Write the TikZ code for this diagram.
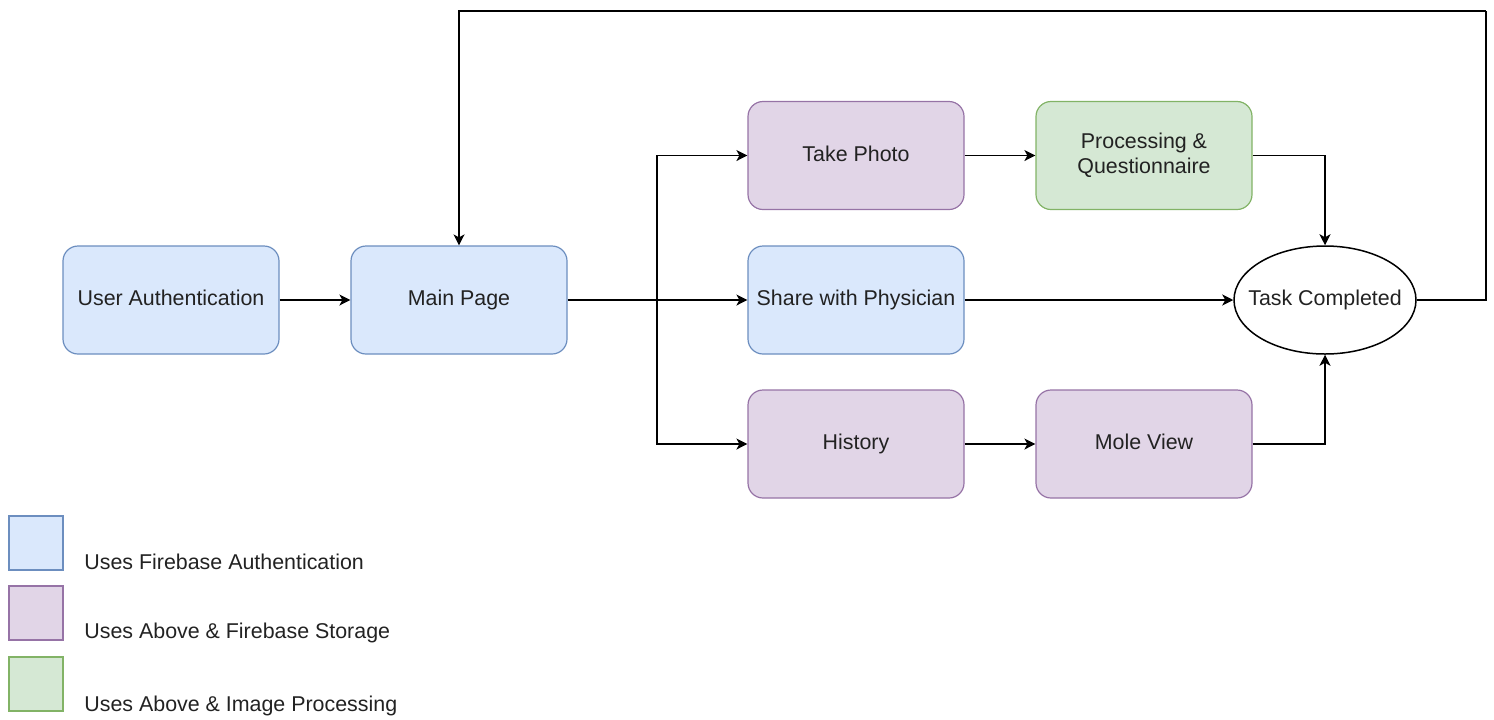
\documentclass[tikz,border=0pt]{standalone}
\usepackage{fontspec}
\setmainfont{Liberation Sans}
\usetikzlibrary{arrows.meta,shapes.geometric}
\definecolor{bfill}{HTML}{DAE8FC}\definecolor{bdraw}{HTML}{6C8EBF}
\definecolor{pfill}{HTML}{E1D5E7}\definecolor{pdraw}{HTML}{9673A6}
\definecolor{gfill}{HTML}{D5E8D4}\definecolor{gdraw}{HTML}{82B366}
\definecolor{txt}{HTML}{222222}
\tikzset{
  box/.style={rounded corners=7.5pt, minimum width=108pt, minimum height=54pt, inner sep=0pt, align=center, line width=0.6pt, text=txt, font=\fontsize{10.7}{12.5}\selectfont},
  oneline/.style={text height=8pt, text depth=2.3pt},
  bluebox/.style={box, fill=bfill, draw=bdraw},
  purplebox/.style={box, fill=pfill, draw=pdraw},
  greenbox/.style={box, fill=gfill, draw=gdraw},
  legbox/.style={minimum width=27pt, minimum height=27pt, inner sep=0pt, line width=0.6pt},
  legtext/.style={anchor=west, inner sep=0pt, text=txt, font=\fontsize{10.7}{12.5}\selectfont},
  arr/.style={-{Stealth[length=5.5pt,width=5.5pt,inset=1.5pt]}, line width=0.75pt, black},
  ln/.style={line width=0.75pt, black}
}
\begin{document}
\begin{tikzpicture}[x=0.5pt,y=-0.5pt]
\useasboundingbox (0,0) rectangle (1494,719);
\node[bluebox, oneline] (auth) at (171,300) {User Authentication};
\node[bluebox, oneline] (main) at (459,300) {Main Page};
\node[purplebox, oneline] (photo) at (856,155.5) {Take Photo};
\node[bluebox, oneline] (share) at (856,300) {Share with Physician};
\node[purplebox, oneline] (hist) at (856,444) {History};
\node[greenbox] (proc) at (1144,155.5) {Processing \&\\Questionnaire};
\node[purplebox, oneline] (mole) at (1144,444) {Mole View};
\node[ellipse, draw, line width=0.75pt, minimum width=91pt, minimum height=54pt, inner sep=0pt,
  label={[text=txt, font=\fontsize{10.7}{12.5}\selectfont, inner sep=0pt, oneline]center:Task Completed}] (task) at (1325,300) {};
\coordinate (br) at (657,300);
\coordinate (loopR) at (1486,11);
\draw[arr] (auth) -- (main);
\draw[arr] (main) -- (share);
\draw[arr] (br) |- (photo);
\draw[arr] (br) |- (hist);
\draw[arr] (photo) -- (proc);
\draw[arr] (hist) -- (mole);
\draw[arr] (share) -- (task);
\draw[arr] (proc.east) -| (task.north);
\draw[arr] (mole.east) -| (task.south);
\draw[ln] (task.east) -| (loopR);
\draw[arr] (loopR) -| (main.north);
\node[legbox, fill=bfill, draw=bdraw] (l1) at (36,543) {};
\node[legbox, fill=pfill, draw=pdraw] (l2) at (36,613) {};
\node[legbox, fill=gfill, draw=gdraw] (l3) at (36,684) {};
\node[legtext] (t1) at (84,562) {Uses Firebase Authentication};
\node[legtext] (t2) at (84,633) {Uses Above \& Firebase Storage};
\node[legtext] (t3) at (84,706) {Uses Above \& Image Processing};
\end{tikzpicture}
\end{document}
